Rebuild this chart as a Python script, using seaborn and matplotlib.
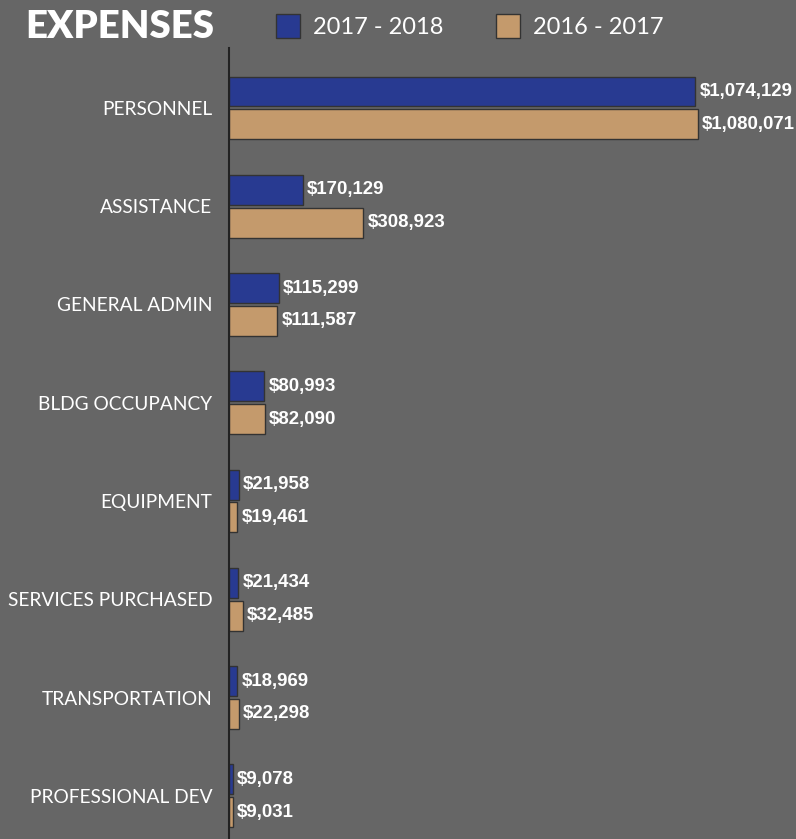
import matplotlib
matplotlib.use("Agg")
import matplotlib.pyplot as plt
import seaborn as sns
import pandas as pd

categories = ["PERSONNEL", "ASSISTANCE", "GENERAL ADMIN", "BLDG OCCUPANCY",
              "EQUIPMENT", "SERVICES PURCHASED", "TRANSPORTATION", "PROFESSIONAL DEV"]
fy_2017_2018 = [1074129, 170129, 115299, 80993, 21958, 21434, 18969, 9078]
fy_2016_2017 = [1080071, 308923, 111587, 82090, 19461, 32485, 22298, 9031]
series_names = ["2017 - 2018", "2016 - 2017"]

df = pd.DataFrame({
    "category": categories * 2,
    "value": fy_2017_2018 + fy_2016_2017,
    "year": [series_names[0]] * len(categories) + [series_names[1]] * len(categories),
})

BG = "#666666"
sns.set_theme(style="white")
plt.rcParams["font.family"] = ["Lato", "DejaVu Sans"]

fig = plt.figure(figsize=(7.96, 8.39), dpi=100, facecolor=BG)
ax = fig.add_axes([229 / 796, 0, 1 - 229 / 796, 1 - 48 / 839])
ax.set_facecolor(BG)

sns.barplot(data=df, y="category", x="value", hue="year", orient="h",
            palette=["#283a91", "#c49a6c"], width=0.67, gap=0.09,
            edgecolor="#333333", linewidth=1.0, ax=ax, saturation=1)

for cont in ax.containers:
    ax.bar_label(cont, labels=[f"${v:,.0f}" for v in cont.datavalues],
                 padding=3, color="white", fontsize=13.4, fontweight="bold",
                 family="Liberation Sans")

ax.set_xlim(0, 1305800)
ax.set_ylim(7.44, -0.61)
ax.set_xlabel("")
ax.set_ylabel("")
ax.set_xticks([])
ax.tick_params(axis="y", length=0, pad=12, labelsize=13.8, labelcolor="white")
for lab in ax.get_yticklabels():
    lab.set_family(["Lato", "DejaVu Sans"])
for s in ["top", "right", "bottom"]:
    ax.spines[s].set_visible(False)
ax.spines["left"].set_color("#222222")
ax.spines["left"].set_linewidth(1.5)

handles, labels = ax.get_legend_handles_labels()
ax.get_legend().remove()
fig.legend(handles, labels, loc="center left", bbox_to_anchor=(276 / 796, 1 - 26 / 839),
           ncol=2, frameon=False, fontsize=17, labelcolor="white", borderpad=0,
           borderaxespad=0, handlelength=1.0, handleheight=1.15, handletextpad=0.55,
           columnspacing=2.25)

fig.text(25 / 796, 1 - 27 / 839, "EXPENSES", color="white", fontsize=27.5,
         fontweight="heavy", va="center", ha="left", family=["Lato", "DejaVu Sans"])

fig.savefig("out.png", dpi=100, facecolor=BG)
